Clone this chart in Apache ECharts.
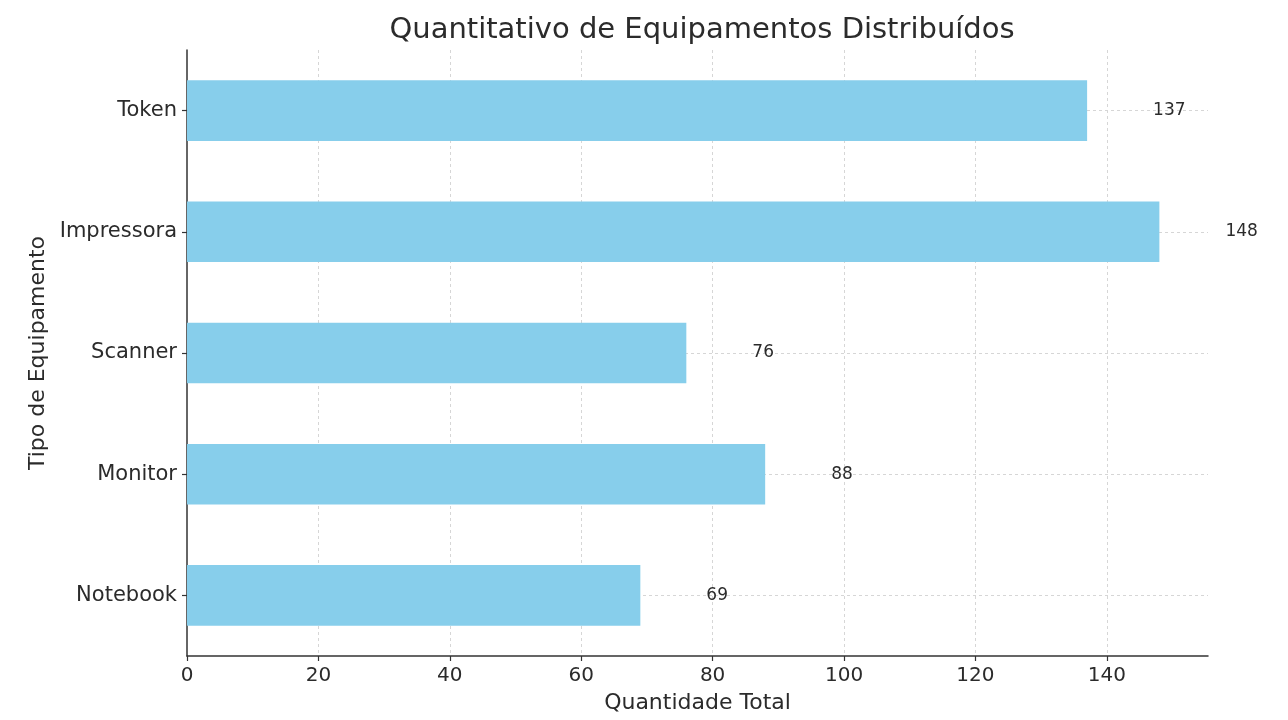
<!DOCTYPE html>
<html>
<head>
<meta charset="utf-8">
<title>Quantitativo de Equipamentos Distribuídos</title>
<script src="https://cdn.jsdelivr.net/npm/echarts@6/dist/echarts.min.js"></script>
<style>
  html, body { margin: 0; padding: 0; background: #ffffff; }
  #chart { width: 1288px; height: 720px; }
</style>
</head>
<body>
<div id="chart"></div>
<script>
// Equipment types, bottom to top
const categories = ['Notebook', 'Monitor', 'Scanner', 'Impressora', 'Token'];
// Total quantity distributed per type
const quantities = [69, 88, 76, 148, 137];
// Value-axis ticks
const xTicks = [0, 20, 40, 60, 80, 100, 120, 140];

const FONT = '"DejaVu Sans", sans-serif';
const TEXT = '#2b2b2b';
const GRID = '#d6d6d6';

const xMax = Math.max(...quantities) * 1.05;

const chart = echarts.init(document.getElementById('chart'), null, { renderer: 'canvas' });

chart.setOption({
  backgroundColor: '#ffffff',
  animation: false,
  title: {
    text: 'Quantitativo de Equipamentos Distribuídos',
    left: 697,
    textAlign: 'center',
    top: 11,
    textStyle: { fontFamily: FONT, fontSize: 29, fontWeight: 'normal', color: TEXT }
  },
  grid: { left: 187, right: 80, top: 50, bottom: 64, containLabel: false },
  xAxis: {
    type: 'value',
    min: xTicks[0],
    max: xMax,
    interval: xTicks[1] - xTicks[0],
    name: 'Quantidade Total',
    nameLocation: 'middle',
    nameGap: 36,
    nameTextStyle: { fontFamily: FONT, fontSize: 22, color: TEXT },
    axisLine: { show: true, lineStyle: { color: '#333', width: 1.5 } },
    axisTick: { show: true, length: 5, lineStyle: { color: '#333', width: 1.2 } },
    axisLabel: {
      fontFamily: FONT, fontSize: 20, color: TEXT, margin: 10,
      showMaxLabel: false,
      formatter: v => (xTicks.includes(v) ? String(v) : '')
    },
    splitLine: {
      show: true,
      showMinLine: false,
      showMaxLine: false,
      lineStyle: { color: GRID, type: [3, 3], width: 1 }
    }
  },
  yAxis: {
    type: 'category',
    data: categories,
    name: 'Tipo de Equipamento',
    nameLocation: 'middle',
    nameGap: 138,
    nameTextStyle: { fontFamily: FONT, fontSize: 22, color: TEXT },
    axisLine: { show: true, lineStyle: { color: '#333', width: 1.5 } },
    axisTick: { show: true, alignWithLabel: true, length: 5, lineStyle: { color: '#333', width: 1.2 } },
    axisLabel: { fontFamily: FONT, fontSize: 21, color: TEXT, margin: 10 },
    splitLine: { show: false }
  },
  series: [
    {
      type: 'bar',
      data: quantities,
      barWidth: '50%',
      z: 3,
      itemStyle: { color: '#87ceeb' },
      label: {
        show: true,
        position: 'right',
        distance: 66,
        fontFamily: FONT,
        fontSize: 17,
        color: TEXT,
        formatter: '{c}'
      },
      // dashed horizontal guides through each category centre, behind the bars
      markLine: {
        silent: true,
        symbol: 'none',
        z: 1,
        label: { show: false },
        lineStyle: { color: GRID, type: [3, 3], width: 1 },
        data: categories.map(c => ({ yAxis: c }))
      }
    }
  ]
});
</script>
</body>
</html>
